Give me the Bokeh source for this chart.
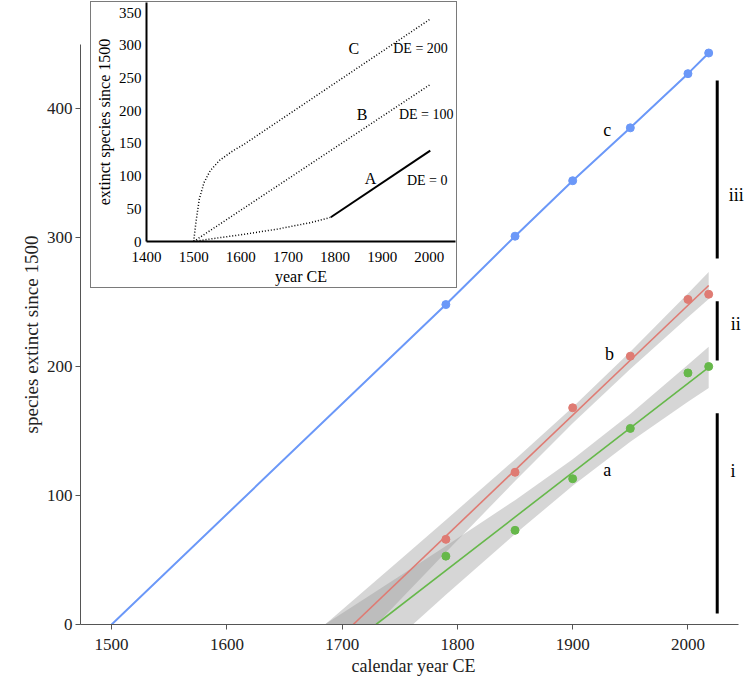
from bokeh.plotting import figure
from bokeh.models import Range1d, FixedTicker, LabelSet, ColumnDataSource, Div
from bokeh.layouts import column
from bokeh.core.properties import value
from bokeh.embed import file_html
from bokeh.resources import INLINE

FONT = "Liberation Serif"

# ---------------- main chart data ----------------
years_c = [1500, 1790, 1850, 1900, 1950, 2000, 2018]
extinct_c = [0, 248, 301, 344, 385, 427, 443]
years_obs = [1790, 1850, 1900, 1950, 2000, 2018]
extinct_c_obs = [248, 301, 344, 385, 427, 443]
extinct_b = [66, 118, 168, 208, 252, 256]
extinct_a = [53, 73, 113, 152, 195, 200]

fit_x_b = [1709.6, 2018]
fit_b = [0, 262.8]
fit_x_a = [1729.4, 2018]
fit_a = [0, 199.4]

band_x = [1660, 1700, 1750, 1790, 1850, 1900, 1950, 2000, 2018]
band_b_lo = [-65.2, -27.8, 18.8, 56.0, 111.2, 156.0, 198.1, 238.2, 252.3]
band_b_hi = [-19.4, 11.4, 50.0, 81.0, 128.0, 168.4, 211.5, 256.6, 273.3]
band_a_lo = [-81.9, -49.3, -9.1, 23.0, 70.2, 107.5, 141.6, 172.7, 183.4]
band_a_hi = [-14.3, 8.7, 37.5, 60.8, 96.4, 128.1, 163.2, 201.3, 215.4]

bar_x = [2025.4, 2025.4, 2025.4]
bar_lo = [8.5, 204.7, 283.7]
bar_hi = [163.8, 250.6, 421.7]
roman = ["i", "ii", "iii"]
roman_x = [2039, 2041.5, 2042]
roman_y = [119, 233, 332.6]

letters = ["a", "b", "c"]
letter_x = [1930, 1932, 1930]
letter_y = [120, 210, 383.7]

x_ticks = [1500, 1600, 1700, 1800, 1900, 2000]
y_ticks = [0, 100, 200, 300, 400]

# ---------------- inset data ----------------
inset_C_x = [1500, 1505, 1512, 1522, 1535, 1555, 1580, 1610, 2002]
inset_C_y = [0, 30, 65, 90, 108, 124, 137, 150, 340]
inset_B_x = [1500, 2002]
inset_B_y = [0, 240]
inset_A_dot_x = [1500, 1537, 1607, 1678, 1749, 1791]
inset_A_dot_y = [0, 4, 11, 19, 29, 37]
inset_A_x = [1791, 2002]
inset_A_y = [37, 139]
inset_letters = ["C", "B", "A"]
inset_letter_x = [1840, 1857.6, 1875.3]
inset_letter_y = [295.4, 193.6, 95.8]
inset_de = ["DE = 200", "DE = 100", "DE = 0"]
inset_de_x = [1981.4, 1993.4, 1995.6]
inset_de_y = [295, 193.6, 93.2]
inset_x_ticks = [1400, 1500, 1600, 1700, 1800, 1900, 2000]
inset_y_ticks = [0, 50, 100, 150, 200, 250, 300, 350]

BLUE = "#6b98f8"
RED = "#df7b73"
GREEN = "#66b84a"

p = figure(width=756, height=683, x_range=Range1d(1473, 2050.8), y_range=Range1d(0, 449.6),
           output_backend="svg", toolbar_location=None,
           min_border_left=74, min_border_right=0, min_border_top=44, min_border_bottom=59)
p.outline_line_color = None
p.xgrid.visible = False
p.ygrid.visible = False

p.varea(x=band_x, y1=band_b_lo, y2=band_b_hi, fill_color="#999999", fill_alpha=0.4)
p.varea(x=band_x, y1=band_a_lo, y2=band_a_hi, fill_color="#999999", fill_alpha=0.4)
p.line(fit_x_b, fit_b, line_color=RED, line_width=1.6)
p.line(fit_x_a, fit_a, line_color=GREEN, line_width=1.6)
p.line(years_c, extinct_c, line_color=BLUE, line_width=2)
p.scatter(years_obs, extinct_c_obs, size=8, color=BLUE)
p.scatter(years_obs, extinct_b, size=8, color=RED)
p.scatter(years_obs, extinct_a, size=8, color=GREEN)
p.segment(x0=bar_x, y0=bar_lo, x1=bar_x, y1=bar_hi, line_color="black", line_width=3)

p.text(x=letter_x, y=letter_y, text=letters, text_font=value(FONT), text_font_size="18px",
       text_align="center", text_baseline="middle", text_color="black")
roman_src = ColumnDataSource(dict(x=roman_x, y=roman_y, t=roman))
p.add_layout(LabelSet(x="x", y="y", text="t", source=roman_src, text_font=FONT,
                      text_font_size="18px", text_align="center", text_baseline="middle",
                      text_color="black"))

for ax in (p.xaxis[0], p.yaxis[0]):
    ax.axis_line_color = "#555555"
    ax.axis_line_width = 1
    ax.major_tick_line_color = "#555555"
    ax.major_tick_out = 5
    ax.major_tick_in = 0
    ax.minor_tick_line_color = None
    ax.major_label_text_font = FONT
    ax.major_label_text_font_size = "17px"
    ax.major_label_text_color = "#222222"
    ax.axis_label_text_font = FONT
    ax.axis_label_text_font_size = "18px"
    ax.axis_label_text_font_style = "normal"
    ax.axis_label_text_color = "#222222"
p.xaxis.bounds = (1473, 2044)
p.xaxis.major_label_standoff = 9
p.xaxis.axis_label_standoff = 3
p.yaxis.major_label_standoff = 3
p.yaxis.axis_label_standoff = 2
p.yaxis.axis_label_text_font_size = "19px"
p.xaxis.ticker = FixedTicker(ticks=x_ticks)
p.yaxis.ticker = FixedTicker(ticks=y_ticks)
p.xaxis.axis_label = "calendar year CE"
p.yaxis.axis_label = "species extinct since 1500"

# ---------------- inset ----------------
inset_box = Div(text="", width=367, height=287,
                styles={"position": "absolute", "left": "90px", "top": "1px", "margin": "0px",
                        "padding": "0px",
                        "width": "367px", "height": "287px", "box-sizing": "border-box",
                        "border": "1px solid #7a7a7a", "background": "transparent"})

q = figure(frame_width=309, frame_height=239, x_range=Range1d(1400, 2055.6), y_range=Range1d(0, 365.3),
           output_backend="svg", toolbar_location=None,
           min_border_left=80, min_border_right=10, min_border_top=10, min_border_bottom=60,
           styles={"position": "absolute", "left": "66px", "top": "-8px"})
q.outline_line_color = None
q.border_fill_color = None
q.background_fill_color = None
q.xgrid.visible = False
q.ygrid.visible = False
q.line(inset_C_x, inset_C_y, line_color="black", line_width=1.5, line_dash="1 2")
q.line(inset_B_x, inset_B_y, line_color="black", line_width=1.5, line_dash="1 2")
q.line(inset_A_dot_x, inset_A_dot_y, line_color="black", line_width=1.5, line_dash="1 2")
q.line(inset_A_x, inset_A_y, line_color="black", line_width=2)
q.text(x=inset_letter_x, y=inset_letter_y, text=inset_letters, text_font=value(FONT),
       text_font_size="16px", text_align="center", text_baseline="middle", text_color="black")
q.text(x=inset_de_x, y=inset_de_y, text=inset_de, text_font=value(FONT),
       text_font_size="14px", text_align="center", text_baseline="middle", text_color="black")
for ax in (q.xaxis[0], q.yaxis[0]):
    ax.axis_line_color = "black"
    ax.axis_line_width = 2
    ax.major_tick_line_color = None
    ax.major_tick_out = 0
    ax.major_tick_in = 0
    ax.minor_tick_line_color = None
    ax.major_label_text_font = FONT
    ax.major_label_text_font_size = "15px"
    ax.major_label_text_color = "black"
    ax.axis_label_text_font = FONT
    ax.axis_label_text_font_size = "16px"
    ax.axis_label_text_font_style = "normal"
    ax.axis_label_text_color = "black"
    ax.axis_label_standoff = 3
q.xaxis.major_label_standoff = 10
q.xaxis.ticker = FixedTicker(ticks=inset_x_ticks)
q.yaxis.ticker = FixedTicker(ticks=inset_y_ticks)
q.xaxis.axis_label = "year CE"
q.yaxis.axis_label = "extinct species since 1500"

root = column(p, inset_box, q)
open("out.html", "w").write(file_html(root, INLINE))
